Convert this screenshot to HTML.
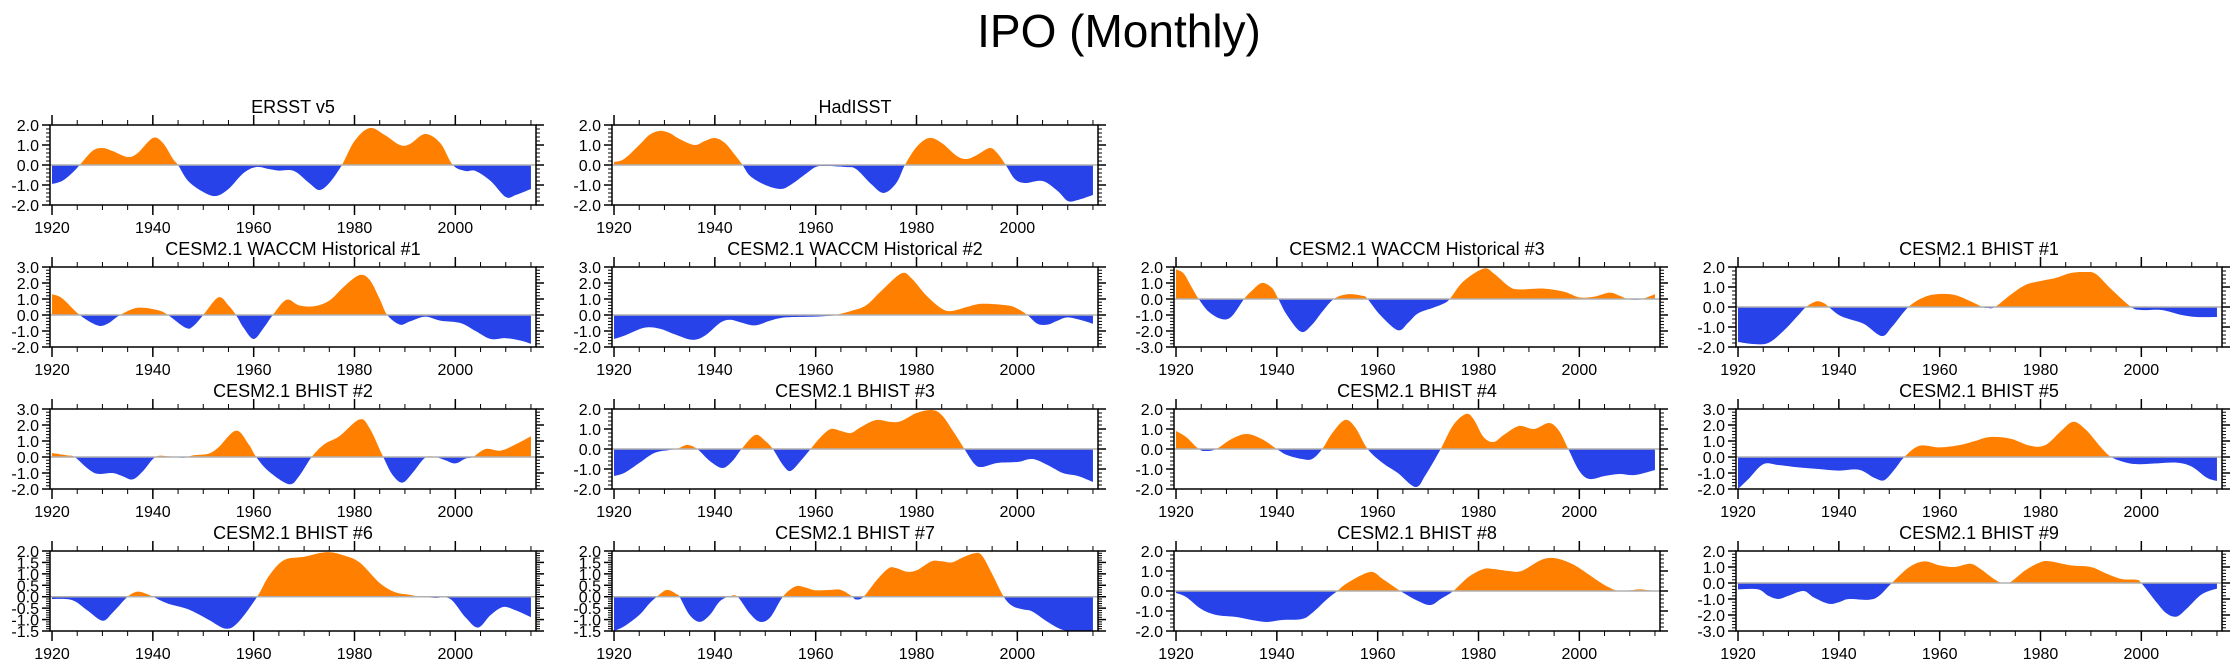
<!DOCTYPE html>
<html><head><meta charset="utf-8"><title>IPO (Monthly)</title>
<style>html,body{margin:0;padding:0;background:#fff}svg{display:block}text{font-family:"Liberation Sans",Arial,sans-serif}</style>
</head><body>
<svg id="chart" width="2238" height="670" viewBox="0 0 2238 670" xmlns="http://www.w3.org/2000/svg">
<text x="1119" y="47" text-anchor="middle" font-size="46">IPO (Monthly)</text>
</svg>
<script>
// ---- data (years, IPO index values) ----
const ersstYears=[1920,1922,1924,1925.5,1928,1930,1932,1935,1937,1940,1942,1944,1945,1947,1950,1952.5,1955,1958,1960.5,1963,1965,1968,1971,1973,1975,1977.5,1980,1983,1986,1989,1991,1994,1997,1999.5,2002,2004,2007,2010,2012,2015];
const ersstValues=[-0.95,-0.8,-0.4,0,0.7,0.85,0.7,0.4,0.6,1.35,1.1,0.3,0,-0.8,-1.35,-1.55,-1.2,-0.4,-0.1,-0.2,-0.28,-0.3,-0.9,-1.25,-0.9,0,1.2,1.85,1.5,1.0,1.05,1.55,1.1,0,-0.3,-0.3,-0.8,-1.6,-1.5,-1.2];
const hadYears=[1920,1922,1925,1927,1929,1931,1933,1936,1938,1940,1942,1944,1945.5,1947,1950,1953,1955,1958,1960,1962,1966,1968,1971,1973.5,1976,1977.7,1980,1982.5,1985,1988,1990,1992,1994.5,1996,1997.7,1999.5,2001.5,2005,2008,2010,2012,2015];
const hadValues=[0.15,0.3,1.0,1.5,1.7,1.6,1.3,1.0,1.2,1.35,1.1,0.5,0,-0.55,-1.0,-1.2,-1.0,-0.45,-0.1,-0.05,-0.1,-0.2,-0.95,-1.4,-0.9,0,0.9,1.35,1.1,0.45,0.3,0.5,0.85,0.6,0,-0.7,-0.9,-0.8,-1.3,-1.8,-1.75,-1.5];
const w1Years=[1920,1922,1925.5,1929,1931,1933.5,1937,1941,1943,1946.5,1948,1950,1953,1955,1956.5,1958,1960,1962,1963.8,1966.5,1969,1972,1975,1978,1981,1983,1985,1986.5,1989,1991,1994,1997,2001,2004,2007,2010,2013,2015];
const w1Values=[1.3,1.05,0,-0.65,-0.55,0,0.45,0.3,0,-0.8,-0.7,0,1.1,0.6,0,-0.8,-1.5,-0.8,0,0.95,0.6,0.55,0.9,1.8,2.5,2.2,1.0,0,-0.6,-0.4,-0.1,-0.35,-0.5,-1.0,-1.5,-1.45,-1.6,-1.8];
const w2Years=[1920,1922,1926,1929,1932,1935.5,1938,1941,1943,1945,1948,1951,1954,1960,1963,1964,1967,1970,1973,1977,1979,1982,1985,1987,1990,1993,1998,2000,2002,2004,2006,2008,2010,2013,2015];
const w2Values=[-1.5,-1.3,-0.8,-0.85,-1.2,-1.55,-1.3,-0.5,-0.3,-0.45,-0.65,-0.35,-0.15,-0.1,-0.05,0,0.25,0.6,1.5,2.6,2.3,1.2,0.4,0.25,0.5,0.7,0.6,0.4,0,-0.55,-0.6,-0.35,-0.15,-0.35,-0.55];
const w3Years=[1920,1921.5,1923,1924.5,1926.5,1929,1931,1933.5,1935,1937,1939,1940.3,1942,1944.8,1947,1949,1951.3,1954,1957,1958,1960.5,1964,1966,1968,1971,1973,1974.3,1977,1981,1983,1986,1988,1993,1997,2000,2003,2006,2008,2009.5,2011,2012.5,2015];
const w3Values=[1.85,1.6,0.8,0,-0.8,-1.25,-1.1,0,0.5,1.0,0.7,0,-1.0,-2.05,-1.6,-0.8,0,0.3,0.2,0,-1.0,-1.95,-1.5,-0.9,-0.55,-0.3,0,1.1,1.9,1.6,0.8,0.6,0.65,0.45,0.1,0.15,0.4,0.2,0,-0.05,0,0.3];
const b1Years=[1920,1923,1926,1929,1932,1933.5,1935.5,1937,1938,1940,1942,1945,1948.5,1950.5,1953.8,1957,1960,1963,1966,1968.5,1969.5,1971,1974,1977,1980,1983,1986,1989,1991,1994,1998,2000,2004,2008,2011,2015];
const b1Values=[-1.75,-1.85,-1.8,-1.2,-0.4,0,0.28,0.2,0,-0.4,-0.6,-0.85,-1.45,-1.0,0,0.5,0.65,0.6,0.3,0,-0.05,0,0.6,1.1,1.3,1.45,1.7,1.75,1.65,0.9,0,-0.15,-0.15,-0.4,-0.5,-0.5];
const b2Years=[1920,1923,1924.5,1927,1929,1932,1934,1936,1938,1940.5,1943,1946,1948,1951,1953,1956.5,1959,1960.5,1963,1967,1969,1971.5,1974,1977,1981,1983,1985.7,1987.5,1989.5,1991.5,1994,1996,1998,2000,2002,2003.5,2006,2009,2012,2015];
const b2Values=[0.25,0.1,0,-0.7,-1.05,-1.0,-1.2,-1.4,-0.9,0,0.05,-0.05,0.1,0.2,0.6,1.65,0.8,0,-0.9,-1.7,-1.2,0,0.8,1.3,2.35,1.8,0,-1.1,-1.6,-1.0,-0.05,0,-0.2,-0.4,-0.1,0,0.5,0.4,0.8,1.3];
const b3Years=[1920,1922,1925,1928,1931,1932.5,1934.5,1936.5,1939,1941.5,1943.5,1945.3,1948,1950,1951.5,1953.5,1955,1957,1959,1961,1963,1965,1967,1969,1972,1975,1977,1980,1983,1985,1987.5,1989.5,1991.5,1993,1996,2000,2003,2006,2009,2012,2015];
const b3Values=[-1.35,-1.2,-0.7,-0.2,-0.05,0,0.2,0,-0.6,-0.95,-0.6,0,0.7,0.4,0,-0.8,-1.1,-0.6,0,0.6,1.0,0.9,0.8,1.1,1.45,1.35,1.4,1.8,1.95,1.7,0.8,0,-0.75,-0.9,-0.7,-0.65,-0.5,-0.8,-1.2,-1.35,-1.65];
const b4Years=[1920,1922,1924.5,1926,1928,1931,1934,1937,1940,1942,1945,1947,1949,1951,1953.5,1955.5,1958,1961,1964,1967.5,1969.5,1972.5,1975,1977.5,1979,1981,1983,1985,1988,1991,1994,1996,1997.8,2000,2002,2005,2008,2011,2015];
const b4Values=[0.9,0.6,0,-0.1,0,0.5,0.75,0.5,0,-0.3,-0.5,-0.5,0,0.8,1.45,1.1,0,-0.7,-1.2,-1.9,-1.3,0,1.2,1.75,1.5,0.6,0.35,0.7,1.15,1.0,1.3,0.9,0,-1.1,-1.5,-1.35,-1.25,-1.3,-1.05];
const b5Years=[1920,1922,1925,1928,1932,1936,1940,1944,1947,1949,1951,1953,1956,1960,1964,1967,1970,1974,1978,1981,1984,1986.5,1989,1992,1994,1997,1999.5,2003,2007,2010,2013,2015];
const b5Values=[-2.0,-1.4,-0.45,-0.5,-0.65,-0.75,-0.85,-0.8,-1.3,-1.45,-0.8,0,0.7,0.6,0.75,1.0,1.25,1.15,0.7,0.75,1.6,2.2,1.7,0.6,0,-0.35,-0.45,-0.4,-0.35,-0.6,-1.3,-1.5];
const b6Years=[1920,1924,1927,1930,1932,1935,1937,1939,1940,1943,1947,1951,1954.5,1957,1960.7,1963,1966,1970,1974.5,1978,1981,1985,1988,1991,1993,1996,1999,2002,2004.5,2007,2009.5,2012,2015];
const b6Values=[-0.1,-0.15,-0.6,-1.05,-0.7,0,0.22,0.1,0,-0.3,-0.55,-1.0,-1.4,-1.1,0,0.9,1.6,1.75,1.95,1.8,1.5,0.6,0.2,0.08,0,-0.05,-0.1,-0.9,-1.35,-0.8,-0.45,-0.6,-0.9];
const b7Years=[1920,1922,1925,1927,1928.5,1930.5,1932.5,1933,1935,1937,1939,1941,1943,1944.5,1947,1949,1951,1953.5,1956,1958,1960,1963,1965,1967,1968,1969.5,1972,1974.5,1976,1978,1980,1983,1985,1987,1989,1991.5,1993,1995,1997.3,1999,2001,2003,2006,2009,2012,2015];
const b7Values=[-1.5,-1.3,-0.8,-0.3,0,0.3,0.1,0,-0.8,-1.1,-0.8,-0.2,0.02,0,-0.75,-1.1,-0.9,0,0.45,0.4,0.28,0.3,0.3,0.05,-0.12,0,0.7,1.25,1.25,1.1,1.15,1.55,1.55,1.5,1.7,1.9,1.8,1.0,0,-0.4,-0.55,-0.65,-1.1,-1.45,-1.5,-1.5];
const b8Years=[1920,1922,1925,1928,1932,1935,1938,1941,1945,1947,1950,1952,1954,1958.5,1961,1964.5,1968,1970.5,1972.5,1975,1978,1981,1983,1986,1988.5,1992,1994,1996,1999,2002,2005,2007.5,2010,2012,2015];
const b8Values=[-0.1,-0.3,-0.9,-1.2,-1.3,-1.45,-1.55,-1.45,-1.4,-1.1,-0.4,0,0.4,0.95,0.6,0,-0.5,-0.7,-0.4,0,0.7,1.1,1.1,1.0,1.0,1.5,1.65,1.6,1.3,0.8,0.3,0.02,0.03,0.08,0.0];
const b9Years=[1920,1924,1926,1928,1930,1933,1935,1938,1940,1942,1946,1948,1950.5,1954,1957,1960,1963,1966,1968,1971,1972.5,1974,1977,1980,1982,1986,1990,1993,1996,1999,2000,2003,2005,2007,2009,2012,2015];
const b9Values=[-0.4,-0.4,-0.8,-1.0,-0.8,-0.5,-0.9,-1.3,-1.2,-1.0,-1.05,-0.8,0,1.0,1.35,1.1,1.0,1.2,0.9,0.2,0,0.05,0.8,1.3,1.35,1.1,1.0,0.6,0.25,0.2,0,-1.2,-1.9,-2.1,-1.6,-0.7,-0.35];
// ---- axis tick labels ----
const xTickYears=[1920,1940,1960,1980,2000];
const xMinorYears=[1920,1925,1930,1935,1940,1945,1950,1955,1960,1965,1970,1975,1980,1985,1990,1995,2000,2005,2010,2015];

const panels=[
 {name:'ersst-v5',title:'ERSST v5',col:0,row:0,ymin:-2,ymax:2,step:1,years:ersstYears,values:ersstValues},
 {name:'hadisst',title:'HadISST',col:1,row:0,ymin:-2,ymax:2,step:1,years:hadYears,values:hadValues},
 {name:'waccm-1',title:'CESM2.1 WACCM Historical #1',col:0,row:1,ymin:-2,ymax:3,step:1,years:w1Years,values:w1Values},
 {name:'waccm-2',title:'CESM2.1 WACCM Historical #2',col:1,row:1,ymin:-2,ymax:3,step:1,years:w2Years,values:w2Values},
 {name:'waccm-3',title:'CESM2.1 WACCM Historical #3',col:2,row:1,ymin:-3,ymax:2,step:1,years:w3Years,values:w3Values},
 {name:'bhist-1',title:'CESM2.1 BHIST #1',col:3,row:1,ymin:-2,ymax:2,step:1,years:b1Years,values:b1Values},
 {name:'bhist-2',title:'CESM2.1 BHIST #2',col:0,row:2,ymin:-2,ymax:3,step:1,years:b2Years,values:b2Values},
 {name:'bhist-3',title:'CESM2.1 BHIST #3',col:1,row:2,ymin:-2,ymax:2,step:1,years:b3Years,values:b3Values},
 {name:'bhist-4',title:'CESM2.1 BHIST #4',col:2,row:2,ymin:-2,ymax:2,step:1,years:b4Years,values:b4Values},
 {name:'bhist-5',title:'CESM2.1 BHIST #5',col:3,row:2,ymin:-2,ymax:3,step:1,years:b5Years,values:b5Values},
 {name:'bhist-6',title:'CESM2.1 BHIST #6',col:0,row:3,ymin:-1.5,ymax:2,step:0.5,years:b6Years,values:b6Values},
 {name:'bhist-7',title:'CESM2.1 BHIST #7',col:1,row:3,ymin:-1.5,ymax:2,step:0.5,years:b7Years,values:b7Values},
 {name:'bhist-8',title:'CESM2.1 BHIST #8',col:2,row:3,ymin:-2,ymax:2,step:1,years:b8Years,values:b8Values},
 {name:'bhist-9',title:'CESM2.1 BHIST #9',col:3,row:3,ymin:-3,ymax:2,step:1,years:b9Years,values:b9Values}
];

const NS='http://www.w3.org/2000/svg';
const svg=document.getElementById('chart');
const colLeft=[50,612,1174,1736], rowTop=[125,267,409,551], PW=486, PH=80;
const XMIN=1919.6, XMAX=2016;
function mk(tag,attrs,parent){const e=document.createElementNS(NS,tag);for(const k in attrs)e.setAttribute(k,attrs[k]);parent.appendChild(e);return e;}

panels.forEach((p,pi)=>{
  const L=colLeft[p.col], T=rowTop[p.row], R=L+PW, B=T+PH;
  const xs=yr=>L+(yr-XMIN)/(XMAX-XMIN)*PW;
  const ys=v=>T+(p.ymax-v)/(p.ymax-p.ymin)*PH;
  const g=mk('g',{},svg);
  
  
  const t=mk('text',{x:(L+R)/2,y:T-12,'text-anchor':'middle','font-size':18},g);
  
  
  t.textContent=p.title;
  const pts=p.years.map((yr,i)=>[xs(yr),ys(p.values[i])]);
  const y0=ys(0);
  let d='M'+pts[0][0]+','+y0+' L'+pts[0][0]+','+pts[0][1];
  for(let i=0;i<pts.length-1;i++){
    const p0=pts[Math.max(i-1,0)],p1=pts[i],p2=pts[i+1],p3=pts[Math.min(i+2,pts.length-1)];
    const c1=[p1[0]+(p2[0]-p0[0])/6,p1[1]+(p2[1]-p0[1])/6];
    const c2=[p2[0]-(p3[0]-p1[0])/6,p2[1]-(p3[1]-p1[1])/6];
    d+=' C'+c1[0]+','+c1[1]+' '+c2[0]+','+c2[1]+' '+p2[0]+','+p2[1];
  }
  d+=' L'+pts[pts.length-1][0]+','+y0+' Z';
  const defs=mk('defs',{},g);
  const cpU=mk('clipPath',{id:'cu'+pi},defs); mk('rect',{x:L,y:T,width:PW,height:y0-T},cpU);
  const cpD=mk('clipPath',{id:'cd'+pi},defs); mk('rect',{x:L,y:y0,width:PW,height:B-y0},cpD);
  const pos=mk('path',{d:d,fill:'#ff8000','clip-path':'url(#cu'+pi+')'},g);
  
  
  const neg=mk('path',{d:d,fill:'#2842ea','clip-path':'url(#cd'+pi+')'},g);
  
  
  const zl=mk('line',{x1:L,x2:R,y1:y0,y2:y0,stroke:'#b0b0b0','stroke-width':1.5},g);
  
  
  const fr=mk('rect',{x:L,y:T,width:PW,height:PH,fill:'none',stroke:'#000','stroke-width':1.5},g);
  
  
  xMinorYears.forEach(yr=>{const x=xs(yr);
    mk('line',{x1:x,x2:x,y1:T,y2:T-5,stroke:'#000','stroke-width':1},g);
    mk('line',{x1:x,x2:x,y1:B,y2:B+5,stroke:'#000','stroke-width':1},g);});
  xTickYears.forEach(yr=>{const x=xs(yr);
    mk('line',{x1:x,x2:x,y1:T,y2:T-10,stroke:'#000','stroke-width':1.5},g);
    mk('line',{x1:x,x2:x,y1:B,y2:B+10,stroke:'#000','stroke-width':1.5},g);
    const lt=mk('text',{x:x,y:B+28,'text-anchor':'middle','font-size':16},g);
    
    
    lt.textContent=yr;});
  const minor=p.step/5;
  const nMin=Math.round((p.ymax-p.ymin)/minor);
  for(let k=0;k<=nMin;k++){const v=p.ymin+k*minor, y=ys(v);
    const major=(k%5===0);
    const len=major?8:4;
    mk('line',{x1:L,x2:L-len,y1:y,y2:y,stroke:'#000','stroke-width':major?1.5:1},g);
    mk('line',{x1:R,x2:R+len,y1:y,y2:y,stroke:'#000','stroke-width':major?1.5:1},g);
    if(major){const yt=mk('text',{x:L-11,y:y+6,'text-anchor':'end','font-size':16},g);
      
      
      yt.textContent=v.toFixed(1);}
  }
});
</script>
</body></html>
